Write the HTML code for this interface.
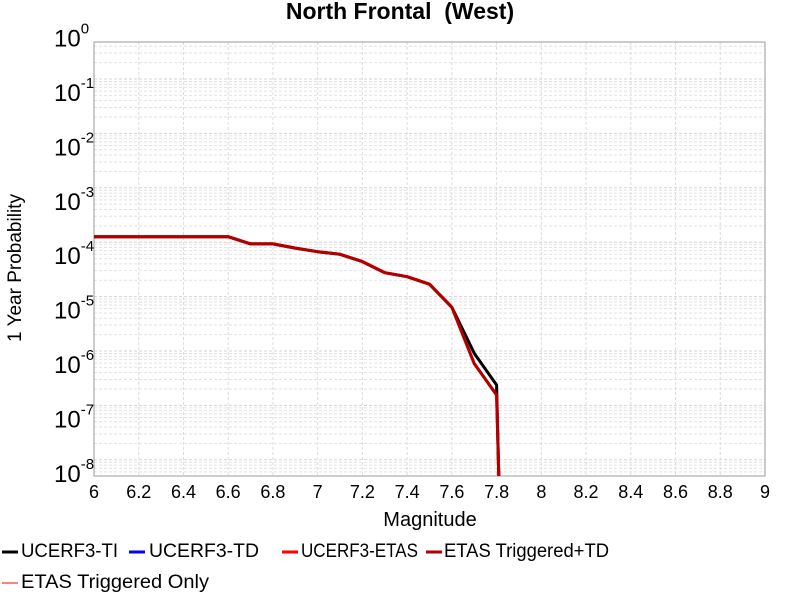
<!DOCTYPE html>
<html><head><meta charset="utf-8"><style>
body{margin:0;background:#fff;font-family:"Liberation Sans",sans-serif}
svg text{font-family:"Liberation Sans",sans-serif}
</style></head><body>
<svg id="chart" width="800" height="600" xmlns="http://www.w3.org/2000/svg">
<text x="400" y="19" text-anchor="middle" font-size="23" font-weight="bold" xml:space="preserve">North Frontal  (West)</text>
<g id="grid"></g>
<rect x="94" y="42" width="671" height="434" fill="none" stroke="#999" stroke-width="1"/>
<g id="series"></g>
<g id="axes"></g>
<text x="430" y="526" text-anchor="middle" font-size="20">Magnitude</text>
<text transform="translate(21,268) rotate(-90)" text-anchor="middle" font-size="19">1 Year Probability</text>
<g id="legend"></g>
</svg>
<script>
const mags=[6.0,6.1,6.2,6.3,6.4,6.5,6.6,6.7,6.8,6.9,7.0,7.1,7.2,7.3,7.4,7.5,7.6,7.7,7.8,7.81];
const tiValues=[1.26e-4,1.26e-4,1.26e-4,1.26e-4,1.26e-4,1.26e-4,1.26e-4,9.3e-5,9.3e-5,7.8e-5,6.7e-5,6.0e-5,4.4e-5,2.75e-5,2.32e-5,1.69e-5,6.35e-6,9.1e-7,2.37e-7,1e-10];
const etasValues=[1.26e-4,1.26e-4,1.26e-4,1.26e-4,1.26e-4,1.26e-4,1.26e-4,9.3e-5,9.3e-5,7.8e-5,6.7e-5,6.0e-5,4.4e-5,2.75e-5,2.32e-5,1.69e-5,6.35e-6,5.9e-7,1.55e-7,1e-10];
const triggeredTdValues=etasValues.slice();
const xTicks=["6","6.2","6.4","6.6","6.8","7","7.2","7.4","7.6","7.8","8","8.2","8.4","8.6","8.8","9"];
const yExps=[0,-1,-2,-3,-4,-5,-6,-7,-8];
const legendLabels=["UCERF3-TI","UCERF3-TD","UCERF3-ETAS","ETAS Triggered+TD","ETAS Triggered Only"];
const legendColors=["#000","#0000ff","#ff0000","#b00000","#ff8080"];

const NS="http://www.w3.org/2000/svg";
const L=94,R=765,T=42,B=476;
const X=m=>L+(m-6)/3*(R-L);
const Y=v=>{const y=79+(-1-Math.log10(v))*54.4;return Math.max(T,Math.min(B,y));};
function mk(tag,attrs,parent){const e=document.createElementNS(NS,tag);for(const k in attrs)e.setAttribute(k,attrs[k]);parent.appendChild(e);return e;}
const grid=document.getElementById('grid'),axes=document.getElementById('axes'),ser=document.getElementById('series'),leg=document.getElementById('legend');
for(let d=1;d>=-9;d--){for(let k=1;k<10;k++){const v=k*Math.pow(10,d);const y=79+(-1-Math.log10(v))*54.4;if(y<T||y>B)continue;
const ln=mk('line',{x1:L,x2:R,y1:y,y2:y,stroke:k==1?'#d4d4d4':'#e2e2e2','stroke-dasharray':'3,2','stroke-width':1},grid);

}}
xTicks.forEach(t=>{const x=X(parseFloat(t));
const ln=mk('line',{x1:x,x2:x,y1:T,y2:B,stroke:'#dcdcdc','stroke-dasharray':'3,2'},grid);


const tx=mk('text',{x:x,y:498,'text-anchor':'middle','font-size':18},axes);tx.textContent=t;

});
yExps.forEach(e=>{const y=79+(-1-e)*54.4;
const tx=mk('text',{x:54,y:y+22,'font-size':24},axes);tx.textContent='10';


const sp=mk('tspan',{dy:-13,'font-size':15},tx);sp.textContent=String(e);});
function line(vals,color,name){const pts=mags.map((m,i)=>X(m).toFixed(1)+','+Y(vals[i]).toFixed(1)).join(' ');
const p=mk('polyline',{points:pts,fill:'none',stroke:color,'stroke-width':3,'stroke-linejoin':'round'},ser);

}
line(tiValues,'#000','ucerf3-ti-line');
line(etasValues,'#ff0000','ucerf3-etas-line');
line(triggeredTdValues,'#b00000','etas-triggered-td-line');
const lx=[2,129,282,426,2],ly=[550,550,550,550,581],tx0=[21,149,301,444,21],tw=[97,110,117,165,188];
legendLabels.forEach((s,i)=>{const g=mk('g',{},leg);


mk('line',{x1:lx[i],x2:lx[i]+16,y1:ly[i]+2,y2:ly[i]+2,stroke:legendColors[i],'stroke-width':i==4?2:3},g);
const t=mk('text',{x:tx0[i],y:ly[i]+7,'font-size':19,textLength:tw[i],lengthAdjust:'spacingAndGlyphs'},g);t.textContent=s;});
</script>
</body></html>
